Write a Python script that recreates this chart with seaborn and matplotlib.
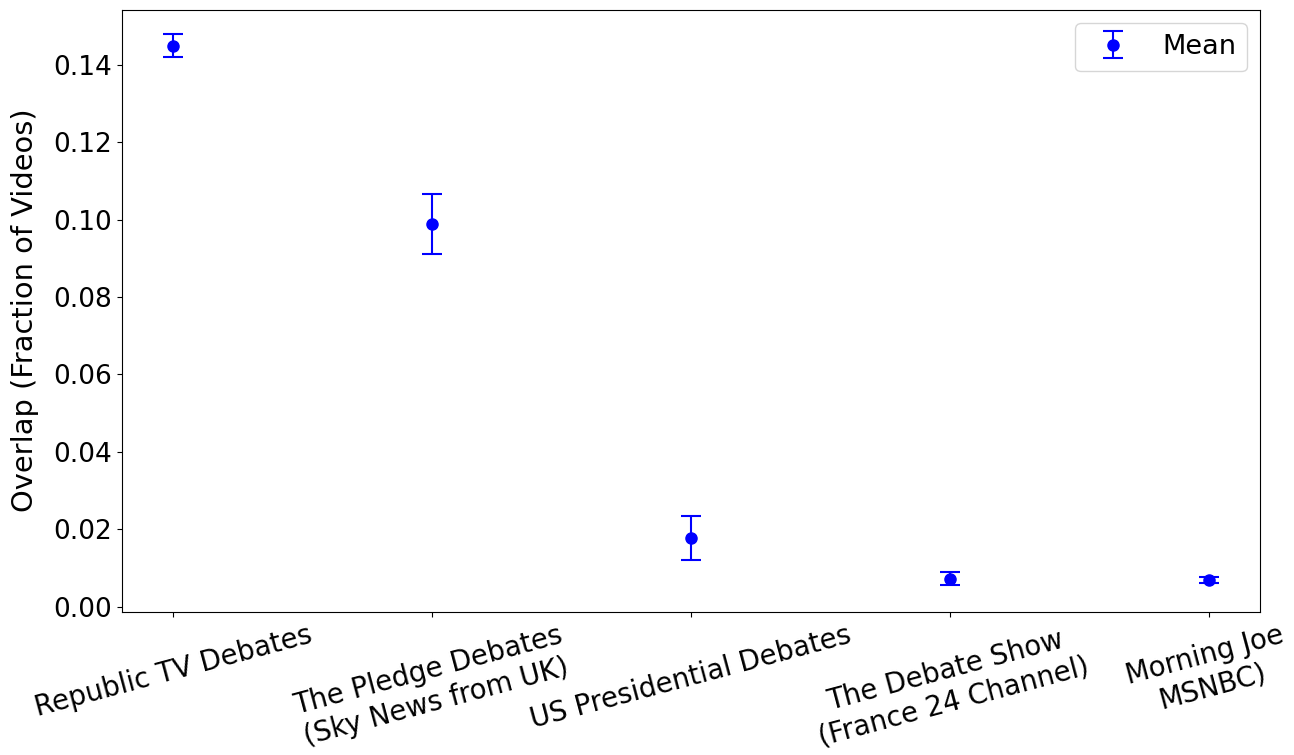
import matplotlib
matplotlib.use('Agg')
import matplotlib.pyplot as plt
import seaborn as sns

# Data
shows = ['Republic TV Debates', 'The Pledge Debates\n(Sky News from UK)',
         'US Presidential Debates', 'The Debate Show\n(France 24 Channel)',
         'Morning Joe\nMSNBC)']
means = [0.1449, 0.0989, 0.0177, 0.0072, 0.0069]
errors = [0.0030, 0.0077, 0.0057, 0.0017, 0.0008]

sns.set_style('ticks', {'text.color': 'black', 'axes.labelcolor': 'black',
                        'xtick.color': 'black', 'ytick.color': 'black',
                        'axes.edgecolor': 'black'})
plt.rcParams['font.family'] = ['DejaVu Sans']

fig, ax = plt.subplots(figsize=(12.94, 7.55), dpi=100)
ax.errorbar(range(len(shows)), means, yerr=errors, fmt='o', color='blue',
            capsize=7, markersize=8, elinewidth=1.5, capthick=1.5, label='Mean')

ax.set_xticks(range(len(shows)))
ax.set_xticklabels(shows, rotation=15, ha='center', fontsize=19.8)
ax.tick_params(axis='y', labelsize=19)
ax.set_ylim(-0.0013, 0.1542)
ax.set_ylabel('Overlap (Fraction of Videos)', fontsize=20.8, labelpad=10)
ax.legend(loc='upper right', fontsize=19.5)

fig.subplots_adjust(left=0.094, right=0.974, top=0.987, bottom=0.19)
fig.savefig('out.png', dpi=100)
